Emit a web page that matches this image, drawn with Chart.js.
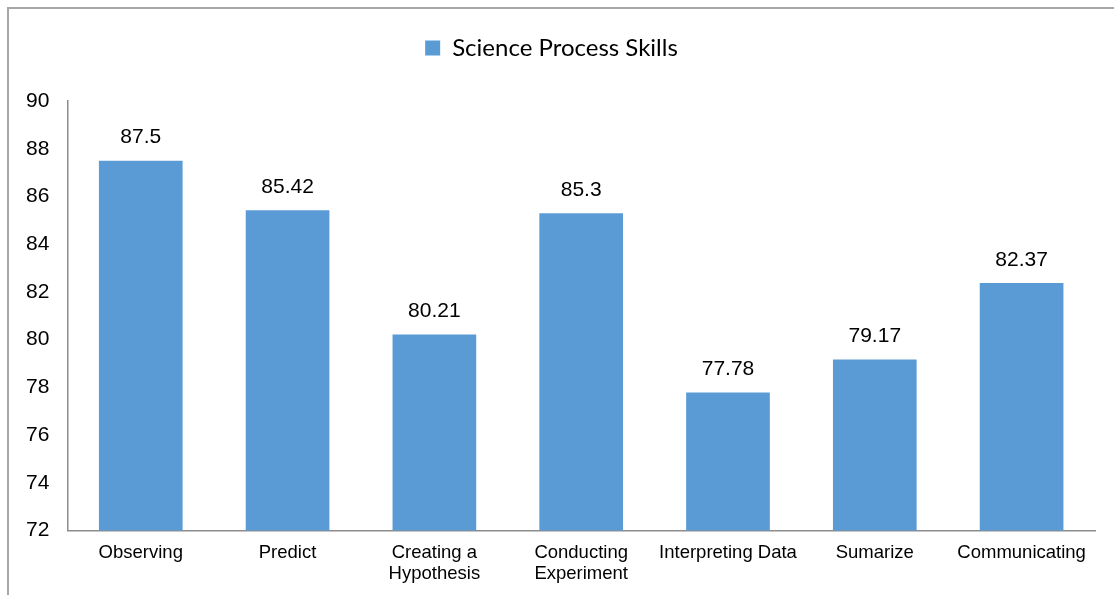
<!DOCTYPE html>
<html lang="en">
<head>
    <meta charset="UTF-8">
    <title>Science Process Skills</title>
    <script src="https://cdn.jsdelivr.net/npm/chart.js"></script>
    <style>
        body { margin: 0; background: #fff; }
        #frame {
            position: absolute; left: 7px; top: 7px;
            width: 1200px; height: 700px;
            border: 2px solid #a6a6a6;
        }
        #wrap { position: absolute; left: 0; top: 0; width: 1114px; height: 595px; }
    </style>
</head>
<body>
    <div id="frame"></div>
    <div id="wrap"><canvas id="myChart"></canvas></div>

    <script>
        // Data
        const skills = ['Observing', 'Predict', ['Creating a', 'Hypothesis'], ['Conducting', 'Experiment'],
            'Interpreting Data', 'Sumarize', 'Communicating'];
        const scores = [87.5, 85.42, 80.21, 85.3, 77.78, 79.17, 82.37];
        const scoreLabels = ['87.5', '85.42', '80.21', '85.3', '77.78', '79.17', '82.37'];

        const barColor = '#5b9bd5';

        // value labels above each bar
        const valueLabels = {
            id: 'valueLabels',
            afterDatasetsDraw(chart) {
                const ctx = chart.ctx;
                const meta = chart.getDatasetMeta(0);
                ctx.save();
                ctx.font = '21px "Liberation Sans", Arial, sans-serif';
                ctx.fillStyle = '#000';
                ctx.textAlign = 'center';
                ctx.textBaseline = 'middle';
                meta.data.forEach((bar, i) => {
                    ctx.fillText(scoreLabels[i], bar.x, bar.y - 23);
                });
                ctx.restore();
            }
        };

        // extra room under the legend
        const legendSpace = {
            id: 'legendSpace',
            beforeInit(chart) {
                const fit = chart.legend.fit;
                chart.legend.fit = function () {
                    fit.bind(chart.legend)();
                    this.height += 31;
                };
            }
        };

        const config = {
            type: 'bar',
            data: {
                labels: skills,
                datasets: [{
                    label: 'Science Process Skills',
                    data: scores,
                    backgroundColor: barColor,
                    borderWidth: 0,
                    barPercentage: 0.57,
                    categoryPercentage: 1
                }]
            },
            options: {
                responsive: true,
                maintainAspectRatio: false,
                animation: false,
                layout: { padding: { left: 8, right: 19, top: 28, bottom: -2 } },
                plugins: {
                    legend: {
                        position: 'top',
                        labels: {
                            boxWidth: 15,
                            boxHeight: 15,
                            padding: 8,
                            color: '#000',
                            font: { family: 'Lato', size: 24 }
                        }
                    },
                    tooltip: { enabled: false }
                },
                scales: {
                    x: {
                        grid: { display: false, drawTicks: false },
                        border: { color: '#8c8c8c', width: 1.5 },
                        ticks: {
                            color: '#000',
                            padding: 12,
                            maxRotation: 0,
                            autoSkip: false,
                            font: { family: '"Liberation Sans", Arial', size: 18.5, lineHeight: 1.15 }
                        }
                    },
                    y: {
                        min: 72,
                        max: 90,
                        grid: { display: false, drawTicks: false },
                        border: { color: '#8c8c8c', width: 1.5 },
                        ticks: {
                            stepSize: 2,
                            color: '#000',
                            padding: 18,
                            font: { family: '"Liberation Sans", Arial', size: 21 }
                        }
                    }
                }
            },
            plugins: [valueLabels, legendSpace]
        };

        var myChart = new Chart(document.getElementById('myChart'), config);
    </script>
</body>
</html>
